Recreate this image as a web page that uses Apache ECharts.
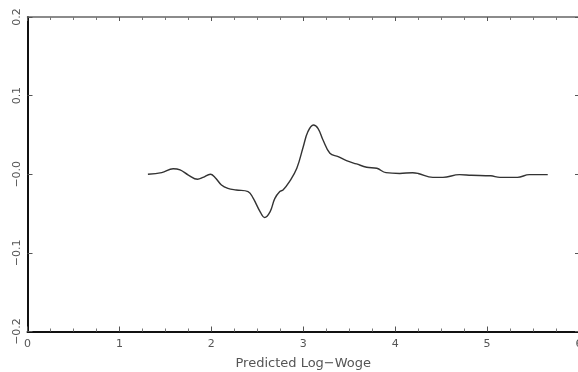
<!DOCTYPE html>
<html>
<head>
<meta charset="utf-8">
<script src="https://cdn.jsdelivr.net/npm/echarts@6/dist/echarts.min.js"></script>
<style>
html,body{margin:0;padding:0;background:#fff;}
#chart{width:578px;height:372px;}
</style>
</head>
<body>
<div id="chart"></div>
<script>
var xTickLabels = ['0','1','2','3','4','5','6'];
var yTickLabels = ['\u22120.2','\u22120.1','\u22120.0','0.1','0.2'];
var xTitle = 'Predicted Log\u2212Woge';
var wageX = [1.31,1.46,1.585,1.66,1.75,1.85,1.91,1.99,2.04,2.11,2.18,2.27,2.40,2.455,2.53,2.58,2.64,2.69,2.745,2.78,2.85,2.93,3.0,3.05,3.11,3.16,3.215,3.29,3.38,3.47,3.58,3.69,3.80,3.90,4.05,4.19,4.25,4.41,4.52,4.70,4.83,5.04,5.14,5.33,5.46,5.66];
var effectY = [0.0,0.002,0.007,0.0055,-0.001,-0.0064,-0.004,0.0,-0.004,-0.0136,-0.018,-0.020,-0.022,-0.0305,-0.0475,-0.055,-0.0475,-0.031,-0.022,-0.020,-0.0094,0.0076,0.035,0.054,0.0627,0.0585,0.0436,0.0267,0.0224,0.0173,0.0131,0.0089,0.0076,0.002,0.001,0.002,0.001,-0.004,-0.004,-0.0005,-0.0013,-0.002,-0.004,-0.004,-0.0005,-0.0005];

var pts = wageX.map(function(x,i){return [x, effectY[i]];});
var chart = echarts.init(document.getElementById('chart'), null, {renderer:'canvas'});
var fnt = 'DejaVu Sans';
chart.setOption({
  animation:false,
  backgroundColor:'#fff',
  grid:{left:27.5, top:17, width:551.5, height:314.5, containLabel:false, outerBoundsMode:'none'},
  xAxis:[{
    type:'value', position:'bottom', min:0, max:6, interval:1,
    axisLine:{show:true, onZero:false, lineStyle:{color:'#111', width:2}},
    axisTick:{show:true, inside:true, length:5, lineStyle:{color:'#555', width:1}},
    minorTick:{show:true, splitNumber:4, length:3, lineStyle:{color:'#777', width:1}},
    splitLine:{show:false},
    axisLabel:{show:true, margin:7, color:'#555', fontFamily:fnt, fontSize:11,
      formatter:function(v){return xTickLabels[Math.round(v)];}},
    name:xTitle, nameLocation:'middle', nameGap:26,
    nameTextStyle:{color:'#555', fontFamily:fnt, fontSize:13}
  },{
    type:'value', position:'top', min:0, max:6, interval:1,
    axisLine:{show:true, onZero:false, lineStyle:{color:'#666', width:1.5}},
    axisTick:{show:true, inside:true, length:4, lineStyle:{color:'#555', width:1}},
    minorTick:{show:true, splitNumber:4, length:3, lineStyle:{color:'#777', width:1}},
    splitLine:{show:false}, axisLabel:{show:false}
  }],
  yAxis:[{
    type:'value', position:'left', min:-0.2, max:0.2, interval:0.1,
    axisLine:{show:true, onZero:false, lineStyle:{color:'#111', width:2}},
    axisTick:{show:true, inside:true, length:5, lineStyle:{color:'#555', width:1}},
    splitLine:{show:false},
    axisLabel:{show:true, rotate:90, margin:5, color:'#555', fontFamily:fnt, fontSize:11,
      formatter:function(v){return yTickLabels[Math.round(v*10)+2];}}
  },{
    type:'value', position:'right', min:-0.2, max:0.2, interval:0.1,
    axisLine:{show:true, onZero:false, lineStyle:{color:'#666', width:1.5}},
    axisTick:{show:true, inside:true, length:4, lineStyle:{color:'#555', width:1}},
    splitLine:{show:false}, axisLabel:{show:false}
  }],
  series:[{
    type:'line', xAxisIndex:0, yAxisIndex:0, data:pts, smooth:0.4,
    showSymbol:false, symbol:'none',
    lineStyle:{color:'#333', width:1.4}
  }]
});
</script>
</body>
</html>
